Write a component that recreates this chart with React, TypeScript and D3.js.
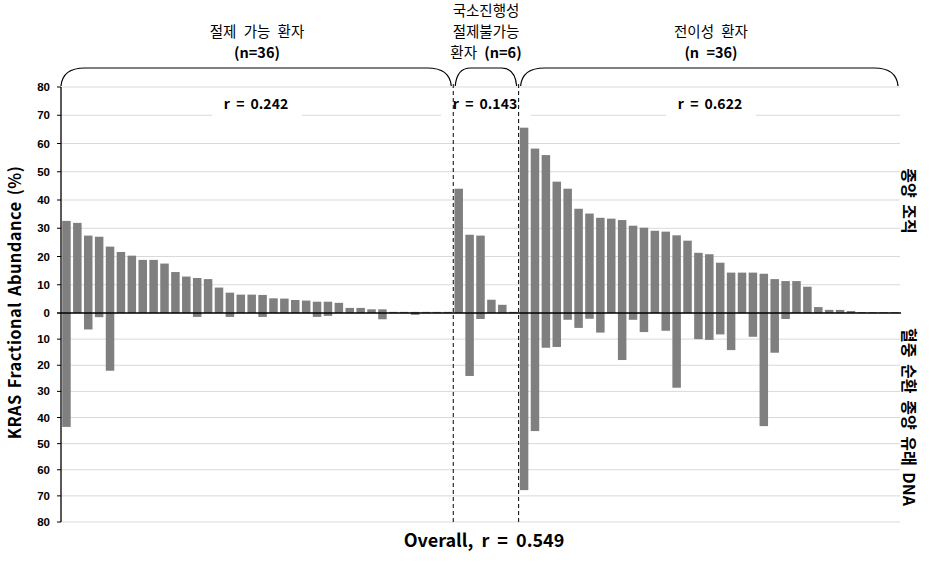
import React from "react";
import * as d3 from "d3";

// Section sizes (bars actually drawn per group)
const groupSizes = [36, 6, 35];
const groupTitles = [
  ["절제 가능 환자", "(n=36)"],
  ["국소진행성", "절제불가능", "환자 (n=6)"],
  ["전이성 환자", "(n =36)"],
];
const groupR = ["r = 0.242", "r = 0.143", "r = 0.622"];

// Tumour tissue KRAS fractional abundance (%) – upward bars
const tissue = [
  32.6, 31.9, 27.4, 27.0, 23.5, 21.6, 20.3, 18.8, 18.8, 17.5, 14.5, 12.9, 12.4, 12.0, 9.0, 7.2, 6.5, 6.5,
  6.4, 5.2, 5.1, 4.6, 4.4, 4.0, 4.0, 3.6, 1.8, 1.8, 1.3, 1.3, 0.4, 0.4, 0.4, 0.4, 0.4, 0.4,
  44.0, 27.7, 27.4, 4.7, 2.9, 0.4,
  65.6, 58.2, 55.9, 46.5, 44.0, 36.9, 35.2, 33.7, 33.4, 32.9, 30.9, 30.2, 29.1, 28.8, 27.5, 25.6,
  21.3, 20.8, 17.8, 14.3, 14.3, 14.3, 13.9, 12.0, 11.3, 11.3, 9.3, 2.1, 1.1, 1.1, 0.7, 0.3, 0.3, 0.3, 0.3,
];

// Circulating tumour DNA KRAS fractional abundance (%) – downward bars
const plasma = [
  43.6, 0, 6.3, 1.6, 22.1, 0, 0, 0, 0, 0, 0, 0, 1.5, 0, 0, 1.5, 0, 0,
  1.5, 0, 0, 0, 0, 1.5, 1.1, 0, 0, 0, 0, 2.4, 0, 0, 0.7, 0, 0, 0,
  0, 24.1, 2.3, 0, 0, 0,
  67.8, 45.2, 13.3, 13.0, 2.6, 5.7, 2.2, 7.5, 0, 18.0, 2.6, 7.3, 0, 6.8, 28.6, 0,
  10.0, 10.3, 8.2, 14.2, 0, 9.1, 43.3, 15.2, 2.3, 0, 0, 0, 0, 0, 0, 0, 0,
];

const tickValues = [0, 10, 20, 30, 40, 50, 60, 70, 80];

const W = 931;
const H = 563;
const plotLeft = 61;
const plotRight = 900;
const zeroY = 313;
const topY = 87;
const bottomY = 522;

export default function App() {
  const n = tissue.length;
  const x = d3
    .scaleBand<number>()
    .domain(d3.range(n))
    .range([plotLeft, plotRight])
    .paddingInner(0.22)
    .paddingOuter(0.11);
  const step = x.step();
  const yUp = d3.scaleLinear().domain([0, 80]).range([zeroY, topY]);
  const yDown = d3.scaleLinear().domain([0, 80]).range([zeroY, bottomY]);

  const starts = [0, groupSizes[0], groupSizes[0] + groupSizes[1]];
  const boundaries = starts.map((s) => plotLeft + (s / n) * (plotRight - plotLeft));
  const bnd = (i: number) => x(i)! - (step - x.bandwidth()) / 2;
  const groupX0 = starts.map((s) => bnd(s));
  const groupX1 = [bnd(starts[1]), bnd(starts[2]), plotRight];

  const bracket = (x0: number, x1: number) => {
    const p = d3.path();
    const yb = 86;
    const yt = 68;
    const rx = Math.min(24, (x1 - x0) / 4);
    p.moveTo(x0, yb);
    p.bezierCurveTo(x0 + 1, yt + 6, x0 + rx * 0.35, yt, x0 + rx, yt);
    p.lineTo(x1 - rx, yt);
    p.bezierCurveTo(x1 - rx * 0.35, yt, x1 - 1, yt + 6, x1, yb);
    return p.toString();
  };

  const titleFont = "'Noto Sans CJK KR', 'Noto Sans', sans-serif";
  const latin = "'Liberation Sans', Arial, sans-serif";
  const titleCx = [257, 486, 711];

  return (
    <svg width={W} height={H} style={{ display: "block", position: "absolute", left: 0, top: 0 }}>
      <rect width={W} height={H} fill="#fff" />
      {/* gridlines */}
      {tickValues.slice(1).map((v) => (
        <g key={"g" + v}>
          <line x1={plotLeft} x2={plotRight} y1={yUp(v)} y2={yUp(v)} stroke="#d9d9d9" strokeWidth={1} />
          <line x1={plotLeft} x2={plotRight} y1={yDown(v)} y2={yDown(v)} stroke="#d9d9d9" strokeWidth={1} />
        </g>
      ))}
      {/* bars */}
      {tissue.map((v, i) => (
        <rect key={"t" + i} x={x(i)} width={x.bandwidth()} y={yUp(v)} height={zeroY - yUp(v)} fill="#7f7f7f" />
      ))}
      {plasma.map((v, i) =>
        v > 0 ? (
          <rect key={"p" + i} x={x(i)} width={x.bandwidth()} y={zeroY} height={yDown(v) - zeroY} fill="#7f7f7f" />
        ) : null
      )}
      {/* zero line */}
      <line x1={plotLeft} x2={plotRight + 1} y1={zeroY} y2={zeroY} stroke="#000" strokeWidth={1.3} />
      {/* left axis */}
      <line x1={plotLeft} x2={plotLeft} y1={topY} y2={bottomY} stroke="#000" strokeWidth={1.3} />
      {tickValues.map((v) => (
        <g key={"tk" + v}>
          <line x1={plotLeft - 4} x2={plotLeft} y1={yUp(v)} y2={yUp(v)} stroke="#000" />
          <line x1={plotLeft - 4} x2={plotLeft} y1={yDown(v)} y2={yDown(v)} stroke="#000" />
          <text x={50} y={yUp(v) + 4} textAnchor="end" fontSize={11.5} fontWeight="bold" fontFamily={latin}>
            {v}
          </text>
          {v > 0 && (
            <text x={50} y={yDown(v) + 4} textAnchor="end" fontSize={11.5} fontWeight="bold" fontFamily={latin}>
              {v}
            </text>
          )}
        </g>
      ))}
      {/* r labels with white boxes */}
      {groupR.map((r, gi) => (
        <g key={"r" + gi}>
          <rect x={titleCx[gi] - 45} y={92} width={90} height={24} fill="#fff" />
          <text
            x={titleCx[gi] - 1}
            y={109}
            textAnchor="middle"
            fontSize={14}
            fontWeight="bold"
            fontFamily={titleFont}
            wordSpacing={3}
          >
            {r}
          </text>
        </g>
      ))}
      {/* dashed boundaries */}
      {[boundaries[1], boundaries[2]].map((bx, i) => (
        <line key={"d" + i} x1={bx} x2={bx} y1={84} y2={bottomY} stroke="#000" strokeWidth={1} strokeDasharray="4,3" />
      ))}
      {/* brackets */}
      {groupX0.map((gx, gi) => (
        <path
          key={"b" + gi}
          d={bracket(gx + (gi === 0 ? 0 : 2), groupX1[gi] - 2)}
          fill="none"
          stroke="#000"
          strokeWidth={1.2}
        />
      ))}
      {/* group titles */}
      {groupTitles.map((lines, gi) =>
        lines.map((t, li) => {
          const nLines = lines.length;
          const yy = 58 - (nLines - 1 - li) * 21;
          const idx = t.indexOf("(");
          const pre = idx >= 0 ? t.slice(0, idx) : t;
          const post = idx >= 0 ? t.slice(idx) : "";
          return (
            <text
              key={"tt" + gi + li}
              x={titleCx[gi]}
              y={yy}
              textAnchor="middle"
              fontSize={14.5}
              fontFamily={titleFont}
              wordSpacing={4}
            >
              {pre}
              {post && <tspan fontWeight={600}>{post}</tspan>}
            </text>
          );
        })
      )}
      {/* y axis title */}
      <text
        transform={`translate(21,${(topY + bottomY) / 2 - 2}) rotate(-90)`}
        textAnchor="middle"
        fontSize={16.5}
        fontWeight="bold"
        fontFamily={titleFont}
        letterSpacing={0.4}
        wordSpacing={2}
      >
        KRAS Fractional Abundance (%)
      </text>
      {/* right-side labels */}
      <text
        transform={`translate(903,201) rotate(90)`}
        textAnchor="middle"
        fontSize={16}
        fontWeight="bold"
        fontFamily={titleFont}
        wordSpacing={3}
      >
        종양 조직
      </text>
      <text
        transform={`translate(903,417) rotate(90)`}
        textAnchor="middle"
        fontSize={16}
        fontWeight="bold"
        fontFamily={titleFont}
        wordSpacing={3}
      >
        혈중 순환 종양 유래 DNA
      </text>
      {/* overall */}
      <text
        x={484}
        y={547}
        textAnchor="middle"
        fontSize={18}
        fontWeight="bold"
        fontFamily={titleFont}
        wordSpacing={4}
      >
        Overall, r = 0.549
      </text>
    </svg>
  );
}
